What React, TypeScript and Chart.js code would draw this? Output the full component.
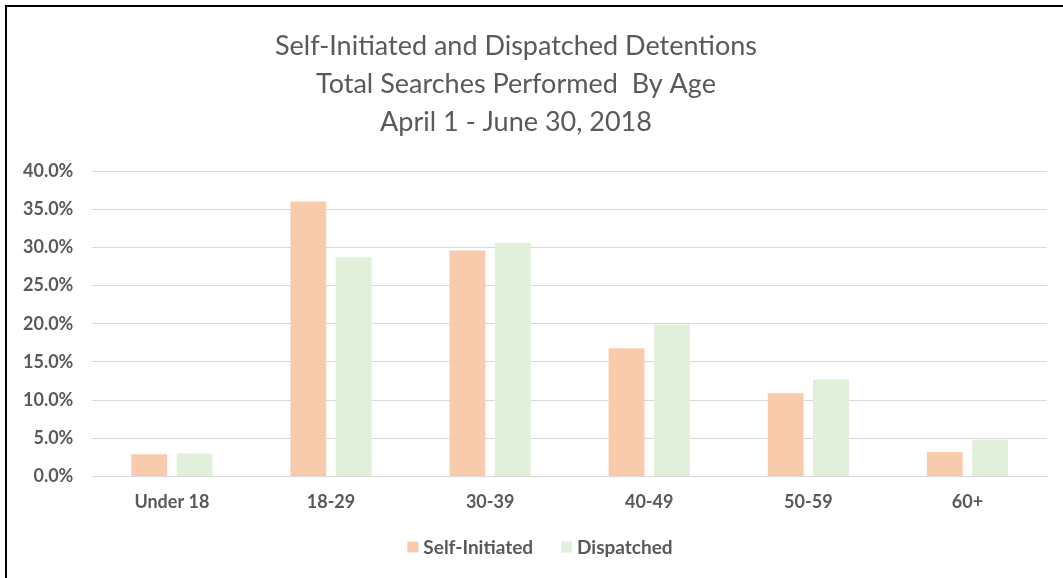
import React, { useEffect, useRef } from "react";
import { Chart, registerables } from "chart.js";

Chart.register(...registerables);

const categories = ["Under 18", "18-29", "30-39", "40-49", "50-59", "60+"];
const selfInitiated = [2.9, 36.0, 29.6, 16.8, 10.9, 3.2];
const dispatched = [3.0, 28.7, 30.6, 19.9, 12.7, 4.8];
const titleLines = [
  "Self-Initiated and Dispatched Detentions",
  "Total Searches Performed  By Age",
  "April 1 - June 30, 2018",
];
const seriesLabels = ["Self-Initiated", "Dispatched"];
const seriesColors = ["#F8CBAD", "#E2EFDA"];

const TEXT = "#595959";
const FONT = "Lato, 'Open Sans', sans-serif";

const titleAndLegend = {
  id: "titleAndLegend",
  afterDraw(chart: any) {
    const ctx = chart.ctx as CanvasRenderingContext2D;
    ctx.save();
    ctx.fillStyle = TEXT;
    ctx.textAlign = "center";
    ctx.textBaseline = "alphabetic";
    ctx.font = `400 27px ${FONT}`;
    const baselines = [55, 93, 131];
    titleLines.forEach((t, i) => ctx.fillText(t, 516, baselines[i]));

    // legend
    ctx.font = `700 19px ${FONT}`;
    const box = 11;
    const gapBox = 5;
    const gapItem = 28;
    const widths = chart.data.datasets.map((d: any) => ctx.measureText(d.label).width);
    let total = 0;
    widths.forEach((w: number, i: number) => {
      total += box + gapBox + w + (i < widths.length - 1 ? gapItem : 0);
    });
    let x = 540 - total / 2;
    const cy = 547;
    ctx.textAlign = "left";
    ctx.textBaseline = "middle";
    chart.data.datasets.forEach((d: any, i: number) => {
      ctx.fillStyle = d.backgroundColor;
      ctx.fillRect(x, cy - box / 2, box, box);
      x += box + gapBox;
      ctx.fillStyle = TEXT;
      ctx.fillText(d.label, x, cy + 1);
      x += widths[i] + gapItem;
    });
    ctx.restore();
  },
};

export default function App() {
  const ref = useRef<HTMLCanvasElement | null>(null);
  useEffect(() => {
    document.body.style.margin = "0";
    const chart = new Chart(ref.current!, {
      type: "bar",
      data: {
        labels: categories,
        datasets: [
          {
            label: seriesLabels[0],
            data: selfInitiated,
            backgroundColor: seriesColors[0],
            categoryPercentage: 0.57,
            barPercentage: 0.79,
          },
          {
            label: seriesLabels[1],
            data: dispatched,
            backgroundColor: seriesColors[1],
            categoryPercentage: 0.57,
            barPercentage: 0.79,
          },
        ],
      },
      options: {
        animation: false,
        responsive: false,
        maintainAspectRatio: false,
        layout: { padding: { top: 171, left: 4, right: 16, bottom: 50 } },
        plugins: {
          legend: { display: false },
          title: { display: false },
          tooltip: { enabled: false },
        },
        scales: {
          x: {
            grid: { display: false, drawTicks: false },
            border: { color: "#D9D9D9" },
            ticks: {
              color: TEXT,
              padding: 15,
              font: { family: FONT, size: 18, weight: "bold" },
            },
          },
          y: {
            min: 0,
            max: 40,
            ticks: {
              stepSize: 5,
              color: TEXT,
              padding: 19,
              font: { family: FONT, size: 18, weight: "bold" },
              callback: (v: any) => Number(v).toFixed(1) + "%",
            },
            grid: { color: "#D9D9D9", drawTicks: false },
            border: { display: false },
          },
        },
      },
      plugins: [titleAndLegend],
    });
    return () => chart.destroy();
  }, []);
  return (
    <div style={{ position: "relative", width: 1063, height: 578, overflow: "hidden", background: "#fff" }}>
      <canvas ref={ref} width={1063} height={578} style={{ position: "absolute", left: 0, top: 0 }} />
      <div
        style={{
          position: "absolute",
          left: 5,
          top: 5,
          width: 1100,
          height: 600,
          borderTop: "2px solid #000",
          borderLeft: "2px solid #000",
          pointerEvents: "none",
        }}
      />
    </div>
  );
}
